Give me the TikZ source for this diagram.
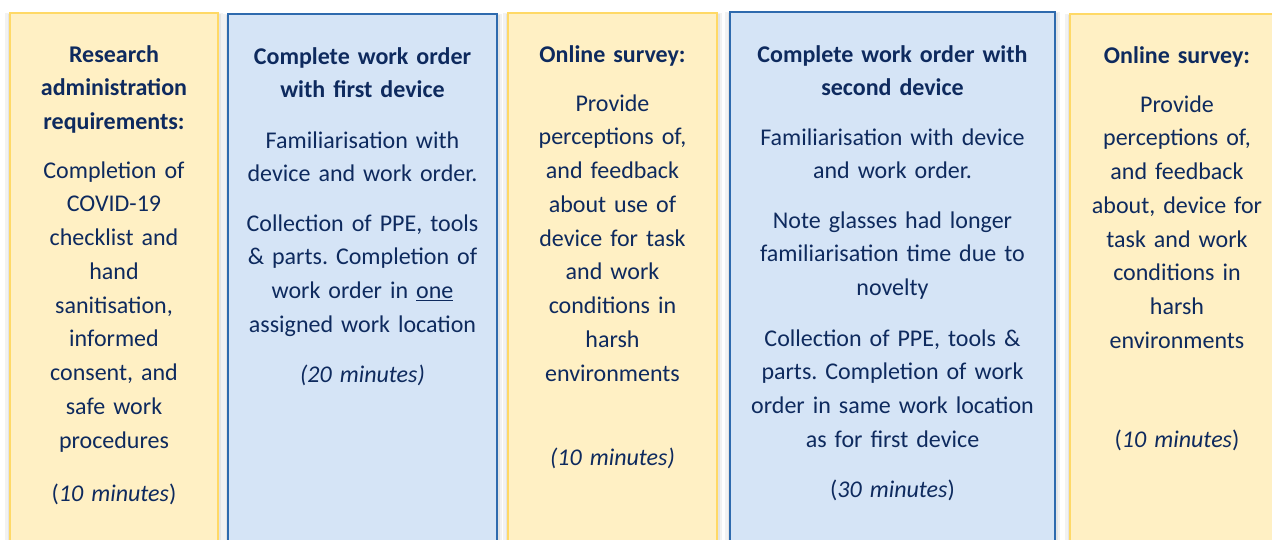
\documentclass[tikz,border=0pt]{standalone}
\usepackage{fontspec}
\setmainfont{Carlito}
\frenchspacing
\definecolor{yfill}{HTML}{FFF0C4}
\definecolor{yline}{HTML}{FFD966}
\definecolor{bfill}{HTML}{D5E4F6}
\definecolor{bline}{HTML}{2E6AAE}
\definecolor{ink}{HTML}{0E2A5E}
\definecolor{shade}{HTML}{D9D9D9}
\tikzset{
  ybox/.style={draw=yline, fill=yfill, line width=1.5pt},
  bbox/.style={draw=bline, fill=bfill, line width=1.5pt},
  txt/.style={anchor=base, align=center, text=ink, inner sep=0pt, text width=#1,
    font=\fontsize{24}{33.75}\selectfont},
  txt/.default=260pt
}
\newcommand{\shadebox}[4]{%
  \fill[shade!35] (#1-5,#2) rectangle (#3+5,#4);
  \fill[shade!70] (#1-2.5,#2+1) rectangle (#3+2.5,#4);
}
\begin{document}
\begin{tikzpicture}[x=1pt,y=-1pt]
\useasboundingbox (0,0) rectangle (1272,539);
\fill[white] (0,0) rectangle (1272,539);
% shadows
\shadebox{10}{13}{218}{560}
\shadebox{228}{14}{497}{560}
\shadebox{508}{13}{717}{560}
\shadebox{730}{12}{1055}{560}
\shadebox{1070}{14}{1290}{560}
% boxes
\draw[ybox] (10,13) rectangle (218,560);
\draw[bbox] (228,14) rectangle (497,560);
\draw[ybox] (508,13) rectangle (717,560);
\draw[bbox] (730,12) rectangle (1055,560);
\draw[ybox] (1070,14) rectangle (1290,560);
% box 1
\node[txt=200pt] (a1) at (114,62) {\textbf{Research}\\\textbf{administration}\\\textbf{requirements:}};
\node[txt=200pt] (a2) at (114,178) {Completion of\\COVID-19\\checklist and\\hand\\sanitisation,\\informed\\consent, and\\safe work\\procedures};
\node[txt=200pt] (a3) at (114,501) {(\textit{10 minutes})};
% box 2
\node[txt] (b1) at (362.5,64) {\textbf{Complete work order}\\\textbf{with first device}};
\node[txt] (b2) at (362.5,148) {Familiarisation with\\device and work order.};
\node[txt] (b3) at (362.5,231) {Collection of PPE, tools\\\& parts. Completion of\\work order in \underline{one}\\assigned work location};
\node[txt] (b4) at (362.5,382) {\textit{(20 minutes)}};
% box 3
\node[txt=200pt] (c1) at (612.5,62) {\textbf{Online survey:}};
\node[txt=200pt] (c2) at (612.5,111) {Provide\\perceptions of,\\and feedback\\about use of\\device for task\\and work\\conditions in\\harsh\\environments};
\node[txt=200pt] (c3) at (612.5,465) {\textit{(10 minutes)}};
% box 4
\node[txt=310pt] (d1) at (892.5,62) {\textbf{Complete work order with}\\\textbf{second device}};
\node[txt=310pt] (d2) at (892.5,145) {Familiarisation with device\\and work order.};
\node[txt=310pt] (d3) at (892.5,228) {Note glasses had longer\\familiarisation time due to\\novelty};
\node[txt=310pt] (d4) at (892.5,346) {Collection of PPE, tools \&\\parts. Completion of work\\order in same work location\\as for first device};
\node[txt=310pt] (d5) at (892.5,497) {(\textit{30 minutes})};
% box 5
\node[txt=200pt] (e1) at (1177,63) {\textbf{Online survey:}};
\node[txt=200pt] (e2) at (1177,112) {Provide\\perceptions of,\\and feedback\\about, device for\\task and work\\conditions in\\harsh\\environments};
\node[txt=200pt] (e3) at (1177,447) {(\textit{10 minutes})};
\end{tikzpicture}
\end{document}
